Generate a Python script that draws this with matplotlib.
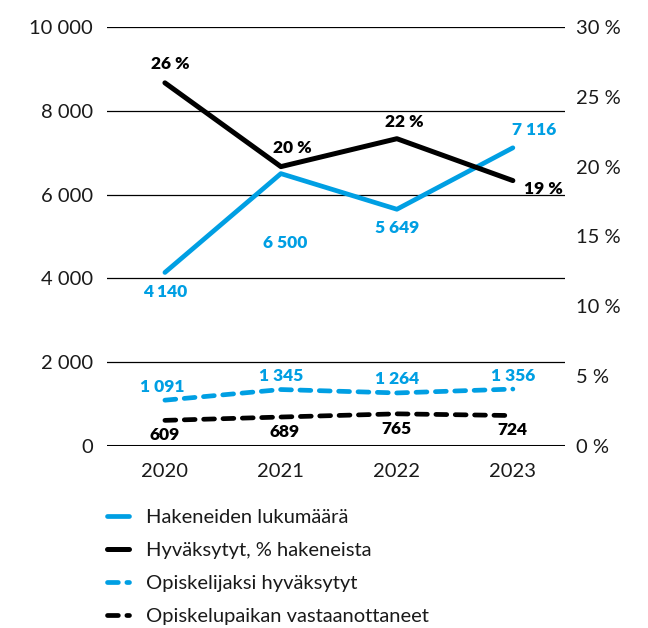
import matplotlib.pyplot as plt
import numpy as np

plt.rcParams['font.family'] = ['Lato', 'DejaVu Sans']

years = ['2020', '2021', '2022', '2023']
applicants = [4140, 6500, 5649, 7116]
accepted_pct = [26, 20, 22, 19]
accepted_students = [1091, 1345, 1264, 1356]
took_place = [609, 689, 765, 724]

BLUE = '#009fe3'
BLACK = '#000000'


def fmt(v):
    return f'{v:,}'.replace(',', ' ')


fig = plt.figure(figsize=(6.48, 6.28), dpi=100)
ax = fig.add_axes([0.165, 0.29, 0.707, 0.667])
ax2 = ax.twinx()

x = np.arange(len(years))

ax.plot(x, applicants, color=BLUE, lw=3.4, solid_capstyle='round', label='Hakeneiden lukumäärä')
ax.plot(x, accepted_students, color=BLUE, lw=3.4, ls=(0, (2.3, 1.8)), dash_capstyle='round',
        label='Opiskelijaksi hyväksytyt')
ax.plot(x, took_place, color=BLACK, lw=3.4, ls=(0, (2.3, 1.8)), dash_capstyle='round',
        label='Opiskelupaikan vastaanottaneet')
ax2.plot(x, accepted_pct, color=BLACK, lw=3.6, solid_capstyle='round', label='Hyväksytyt, % hakeneista')

ax.set_ylim(0, 10000)
ax2.set_ylim(0, 30)
ax.set_xlim(-0.5, 3.45)
ax.set_yticks(np.arange(0, 10001, 2000))
ax.set_yticklabels([fmt(v) for v in range(0, 10001, 2000)])
ax2.set_yticks(np.arange(0, 31, 5))
ax2.set_yticklabels([f'{v} %' for v in range(0, 31, 5)])
ax.set_xticks(x)
ax.set_xticklabels(years)

for a in (ax, ax2):
    for s in a.spines.values():
        s.set_visible(False)
    a.tick_params(length=0, labelsize=14.5, colors='#1a1a1a')
ax.tick_params(axis='y', pad=10)
ax.tick_params(axis='x', pad=12)
ax2.tick_params(axis='y', pad=8)

ax.grid(axis='y', color='black', lw=0.9)
ax.axhline(0, color='black', lw=2.2, zorder=3)
ax.set_axisbelow(True)

lab = dict(fontsize=12.5, fontweight='heavy', ha='center', textcoords='offset points')

pct_off = [(4, 8), (8, 8), (5, 6), (22, -6)]
for xi, v, o in zip(x, accepted_pct, pct_off):
    ax2.annotate(f'{v} %', (xi, v), xytext=o, color=BLACK, va='bottom' if o[1] > 0 else 'center', **lab)

app_off = [(0, -8), (3, -44), (0, -8), (15, 7)]
for xi, v, o in zip(x, applicants, app_off):
    ax.annotate(fmt(v), (xi, v), xytext=o, color=BLUE, va='top' if o[1] < 0 else 'bottom', **lab)

acc_off = [(-2, 4), (0, 4), (0, 4), (0, 4)]
for xi, v, o in zip(x, accepted_students, acc_off):
    ax.annotate(fmt(v), (xi, v), xytext=o, color=BLUE, va='bottom', **lab)

took_off = [(0, -5), (3, -5), (0, -5), (0, -5)]
for xi, v, o in zip(x, took_place, took_off):
    ax.annotate(fmt(v), (xi, v), xytext=o, color=BLACK, va='top', **lab)

h1, l1 = ax.get_legend_handles_labels()
h2, l2 = ax2.get_legend_handles_labels()
handles = [h1[0], h2[0], h1[1], h1[2]]
labels = [l1[0], l2[0], l1[1], l1[2]]
fig.legend(handles, labels, loc='upper left', bbox_to_anchor=(0.137, 0.218), frameon=False,
           fontsize=14.5, handlelength=1.1, handletextpad=0.85, labelspacing=0.78,
           labelcolor='#1a1a1a')

fig.savefig('out.png', dpi=100, facecolor='white')
